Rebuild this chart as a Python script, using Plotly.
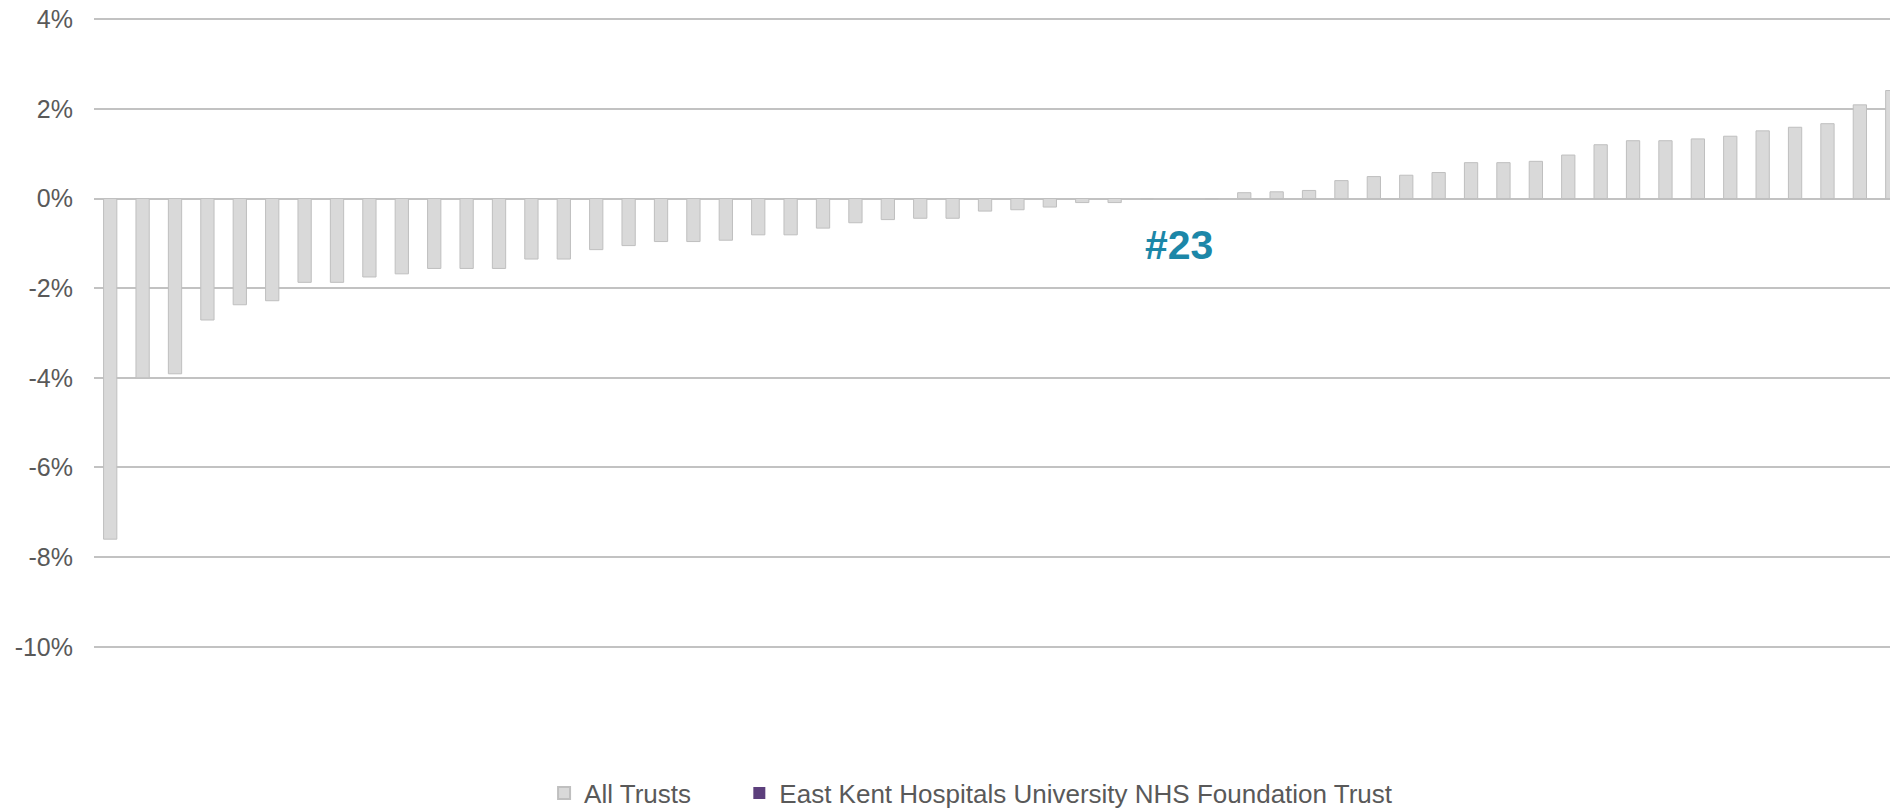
import plotly.graph_objects as go

# ---- data ----
trust_rank = list(range(1, 57))
all_trusts = [
    -7.60, -4.00, -3.91, -2.71, -2.37, -2.28, -1.87, -1.87, -1.75, -1.68,
    -1.56, -1.56, -1.56, -1.35, -1.35, -1.14, -1.05, -0.96, -0.96, -0.93,
    -0.81, -0.81, -0.66, -0.54, -0.47, -0.44, -0.44, -0.28, -0.25, -0.19,
    -0.09, -0.09, 0.0, None, 0.0, 0.13, 0.15, 0.18, 0.40, 0.49,
    0.52, 0.58, 0.80, 0.80, 0.83, 0.97, 1.20, 1.29, 1.29, 1.33,
    1.39, 1.51, 1.59, 1.67, 2.09, 2.41,
]
east_kent = [None] * 33 + [0.0] + [None] * 22
highlight_label = "#23"
highlight_index = 34
highlight_y = -1.03
tick_vals = [-10, -8, -6, -4, -2, 0, 2, 4]
tick_text = ["-10%", "-8%", "-6%", "-4%", "-2%", "0%", "2%", "4%"]

FONT = "Liberation Sans, Arial, sans-serif"
GRID = "#C2C2C2"
NBSP = "\u00a0"

fig = go.Figure()
fig.add_trace(go.Bar(
    x=trust_rank, y=all_trusts, name="All Trusts" + NBSP * 6,
    marker=dict(color="#D9D9D9", line=dict(color="#BFBFBF", width=1)),
))
fig.add_trace(go.Bar(
    x=trust_rank, y=east_kent, name="East Kent Hospitals University NHS Foundation Trust",
    marker=dict(color="#5C3F7C", line=dict(color="#5C3F7C", width=0)),
))

fig.add_annotation(
    x=highlight_index, y=highlight_y, xref="x", yref="y",
    text="<b>" + highlight_label + "</b>", showarrow=False,
    font=dict(family=FONT, size=41, color="#1C87A8"),
    xanchor="center", yanchor="middle",
)

fig.update_layout(
    width=1890, height=810,
    margin=dict(l=94, r=0, t=17, b=161, autoexpand=False),
    paper_bgcolor="white", plot_bgcolor="white",
    barmode="overlay", bargap=0.59,
    font=dict(family=FONT, size=25, color="#595959"),
    showlegend=True,
    legend=dict(
        orientation="h", x=0.2506, xanchor="left", y=-0.228, yanchor="middle",
        font=dict(family=FONT, size=26, color="#595959"),
        itemsizing="constant", traceorder="normal",
    ),
    xaxis=dict(
        range=[0.5, 55.93], showgrid=False, zeroline=False, showline=False,
        showticklabels=False, ticks="",
    ),
    yaxis=dict(
        range=[-10.05, 4.05], tickvals=tick_vals, ticktext=tick_text,
        showgrid=True, gridcolor=GRID, gridwidth=2,
        zeroline=True, zerolinecolor=GRID, zerolinewidth=2,
        showline=False, ticks="", ticklabelstandoff=20,
        tickfont=dict(family=FONT, size=25, color="#595959"),
    ),
)

fig.write_html("out.html")
